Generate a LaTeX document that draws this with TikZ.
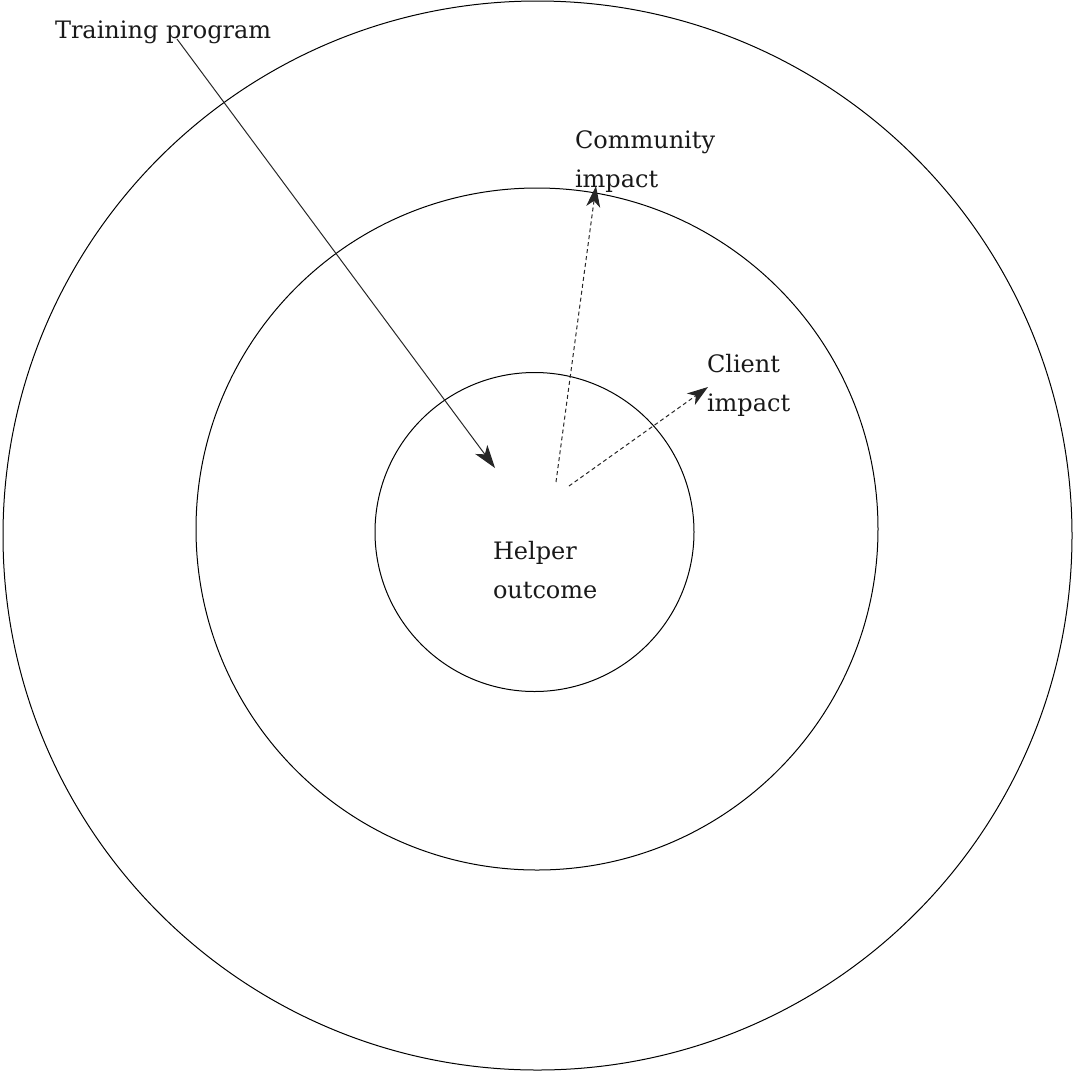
\documentclass[tikz,border=0pt]{standalone}
\usepackage{fontspec}
\setmainfont{DejaVu Serif}
\usetikzlibrary{arrows.meta}

\tikzset{
  ring/.style={draw=black, line width=1pt},
  label text/.style={anchor=base west, inner sep=0pt, outer sep=0pt, align=left,
    font=\fontsize{24}{38.5}\selectfont, text=black!90},
  solid link/.style={draw=black!85, line width=1pt,
    -{Stealth[length=23pt, width=15pt, inset=6pt]}},
  dashed link/.style={draw=black!85, line width=1pt, dash pattern=on 4pt off 3pt,
    -{Stealth[length=21pt, width=14pt, inset=6pt]}}
}

\begin{document}
\begin{tikzpicture}[x=1pt, y=-1pt]
  \useasboundingbox (0,0) rectangle (1074,1072);

  % concentric rings
  \node[ring, circle, minimum size=1069pt, inner sep=0pt] (outer) at (537.5,535.5) {};
  \node[ring, circle, minimum size=682pt, inner sep=0pt] (middle) at (537,529) {};
  \node[ring, circle, minimum size=319pt, inner sep=0pt] (inner) at (534.5,532) {};

  % labels (base anchor sits on the last line)
  \node[label text] (train) at (55,38) {Training program};
  \node[label text] (community) at (575,187) {Community\\impact};
  \node[label text] (client) at (707,411) {Client\\impact};
  \node[label text] (helper) at (493,598) {Helper\\outcome};

  % connector end points
  \coordinate (trainstart) at (177,39);
  \coordinate (trainend) at (495,468);
  \coordinate (commstart) at (556,482);
  \coordinate (commend) at (596,186);
  \coordinate (clientstart) at (569,486);
  \coordinate (clientend) at (708,387);

  % connectors
  \draw[solid link] (trainstart) -- (trainend);
  \draw[dashed link] (commstart) -- (commend);
  \draw[dashed link] (clientstart) -- (clientend);
\end{tikzpicture}
\end{document}
